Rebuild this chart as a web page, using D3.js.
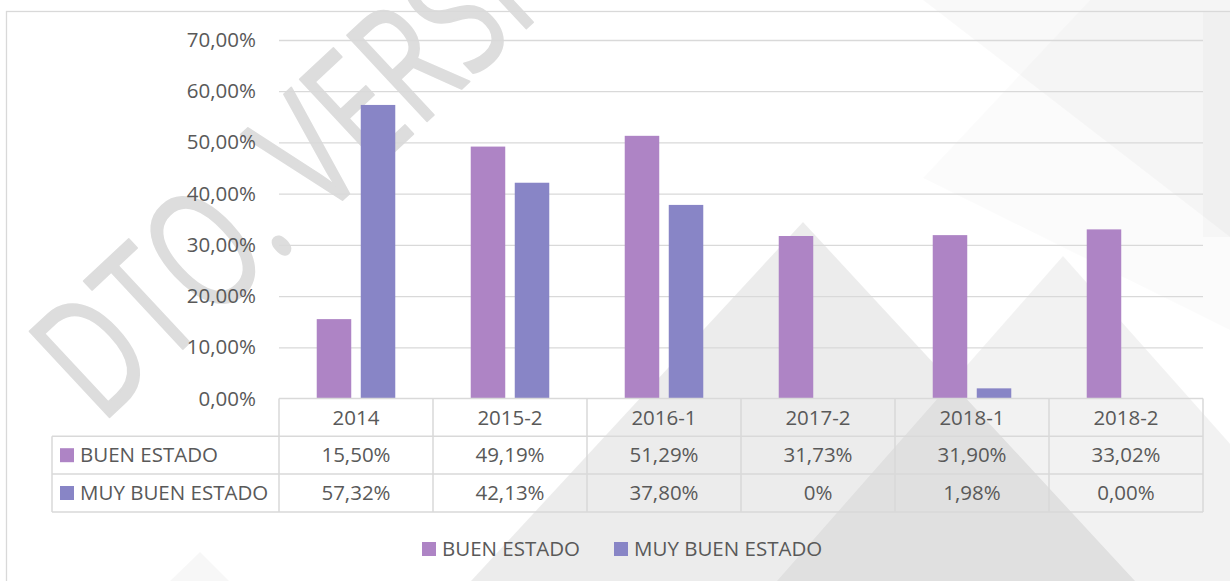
<!DOCTYPE html>
<html>
<head>
<meta charset="utf-8">
<script src="https://cdn.jsdelivr.net/npm/d3@7/dist/d3.min.js"></script>
<style>
  html, body { margin: 0; padding: 0; background: #ffffff; }
  svg { display: block; }
  text { font-family: "Open Sans", "Noto Sans", sans-serif; }
</style>
</head>
<body>
<svg id="chart" width="1230" height="581"></svg>
<script>
// ---- data ----
const categories = ["2014", "2015-2", "2016-1", "2017-2", "2018-1", "2018-2"];
const seriesNames = ["BUEN ESTADO", "MUY BUEN ESTADO"];
const buenEstado = [15.50, 49.19, 51.29, 31.73, 31.90, 33.02];
const muyBuenEstado = [57.32, 42.13, 37.80, 0, 1.98, 0.00];
// decimals shown in the data table for each cell
const buenDecimals = [2, 2, 2, 2, 2, 2];
const muyDecimals = [2, 2, 2, 0, 2, 2];
const yTicks = [0, 10, 20, 30, 40, 50, 60, 70];
const seriesColors = ["#ae84c5", "#8885c6"];

const series = [
  { name: seriesNames[0], values: buenEstado, decimals: buenDecimals, color: seriesColors[0] },
  { name: seriesNames[1], values: muyBuenEstado, decimals: muyDecimals, color: seriesColors[1] }
];

const fmtPct = (v, d) => d3.format("." + d + "f")(v).replace(".", ",") + "%";

// ---- layout ----
const W = 1230, H = 581;
const plot = { left: 279, right: 1203, top: 40, bottom: 398.5 };
const tableLeft = 52;
const rowH = 37.8;
const textColor = "#595959";
const lineColor = "#d9d9d9";
const fontSize = 20.5;

const svg = d3.select("#chart");

// ---- background decoration ----
const bg = svg.append("g");
bg.append("rect").attr("width", W).attr("height", H).attr("fill", "#ffffff");
const shades = [
  { pts: [[923, 0], [1230, 0], [1230, 237]], a: 0.025 },
  { pts: [[1090, 0], [923, 178], [1230, 330], [1230, 0]], a: 0.015 },
  { pts: [[1203, 11], [1230, 11], [1230, 237], [1203, 237]], a: 0.02 },
  { pts: [[803, 222], [471, 581], [1135, 581]], a: 0.075 },
  { pts: [[1063, 256], [777, 581], [1352, 581]], a: 0.05 },
  { pts: [[200, 552], [170, 581], [229, 581]], a: 0.03 }
];
bg.selectAll("polygon").data(shades).join("polygon")
  .attr("points", d => d.pts.map(p => p.join(",")).join(" "))
  .attr("fill", "#000")
  .attr("fill-opacity", d => d.a);

// watermark
svg.append("text")
  .attr("transform", "translate(101,425) rotate(-43) scale(0.71,1)")
  .attr("font-size", 164)
  .attr("fill", "#dddddd")
  .attr("stroke", "#dddddd")
  .attr("stroke-width", 2)
  .attr("stroke-linejoin", "round")
  .text("DTO. VERSIÓN");

// chart frame
svg.append("rect")
  .attr("x", 6.5).attr("y", 11.5)
  .attr("width", W).attr("height", H)
  .attr("fill", "none")
  .attr("stroke", lineColor)
  .attr("stroke-width", 1.3);

// ---- scales ----
const x0 = d3.scaleBand().domain(categories).range([plot.left, plot.right]).padding(0);
const step = x0.step();
const x1 = d3.scaleBand().domain(seriesNames)
  .range([step * 0.245, step * 0.755]).paddingInner(0.216);
const y = d3.scaleLinear().domain([0, 70]).range([plot.bottom, plot.top]);

// gridlines
const grid = svg.append("g")
  .attr("transform", `translate(${plot.left},0)`)
  .call(d3.axisLeft(y).tickValues(yTicks.slice(1)).tickSize(-(plot.right - plot.left)).tickFormat(""));
grid.select(".domain").remove();
grid.selectAll("line").attr("stroke", lineColor).attr("stroke-width", 1.3);

// y axis labels
const yAxis = svg.append("g")
  .attr("transform", `translate(256,0)`)
  .call(d3.axisLeft(y).tickValues(yTicks).tickSize(0).tickPadding(0)
    .tickFormat(v => fmtPct(v, 2)));
yAxis.select(".domain").remove();
yAxis.selectAll("text")
  .attr("font-family", "\"Open Sans\", sans-serif")
  .attr("font-size", fontSize)
  .attr("fill", textColor);

// ---- bars ----
const groups = svg.append("g").selectAll("g").data(categories).join("g")
  .attr("transform", d => `translate(${x0(d)},0)`);
groups.selectAll("rect")
  .data((c, i) => series.map(s => ({ key: s.name, value: s.values[i], color: s.color })))
  .join("rect")
  .attr("x", d => x1(d.key))
  .attr("width", x1.bandwidth())
  .attr("y", d => y(d.value))
  .attr("height", d => y(0) - y(d.value))
  .attr("fill", d => d.color);

// ---- data table ----
const table = svg.append("g");
const rowTop = [plot.bottom, plot.bottom + rowH, plot.bottom + 2 * rowH, plot.bottom + 3 * rowH];
const tableLine = (x1_, y1_, x2_, y2_) => table.append("line")
  .attr("x1", x1_).attr("y1", y1_).attr("x2", x2_).attr("y2", y2_)
  .attr("stroke", lineColor).attr("stroke-width", 1.5);

// horizontal rules
tableLine(plot.left, rowTop[0], plot.right, rowTop[0]);
[1, 2, 3].forEach(r => tableLine(tableLeft, rowTop[r], plot.right, rowTop[r]));
// vertical rules
tableLine(tableLeft, rowTop[1], tableLeft, rowTop[3]);
categories.forEach(c => tableLine(x0(c), rowTop[0], x0(c), rowTop[3]));
tableLine(plot.right, rowTop[0], plot.right, rowTop[3]);

// category header
table.selectAll("text.cat").data(categories).join("text")
  .attr("class", "cat")
  .attr("x", d => x0(d) + step / 2)
  .attr("y", (rowTop[0] + rowTop[1]) / 2)
  .attr("dy", "0.35em")
  .attr("text-anchor", "middle")
  .attr("font-size", fontSize)
  .attr("fill", textColor)
  .text(d => d);

// series rows
series.forEach((s, si) => {
  const cy = (rowTop[si + 1] + rowTop[si + 2]) / 2;
  table.append("rect")
    .attr("x", 60).attr("y", cy - 7).attr("width", 14).attr("height", 14)
    .attr("fill", s.color);
  table.append("text")
    .attr("x", 80).attr("y", cy).attr("dy", "0.35em")
    .attr("font-size", fontSize).attr("fill", textColor)
    .text(s.name);
  table.selectAll("text.v" + si).data(categories).join("text")
    .attr("class", "v" + si)
    .attr("x", d => x0(d) + step / 2)
    .attr("y", cy)
    .attr("dy", "0.35em")
    .attr("text-anchor", "middle")
    .attr("font-size", fontSize)
    .attr("fill", textColor)
    .text((d, i) => fmtPct(s.values[i], s.decimals[i]));
});

// ---- legend ----
const legend = svg.append("g").attr("transform", "translate(0,549)");
const legendX = [422, 614];
series.forEach((s, i) => {
  legend.append("rect")
    .attr("x", legendX[i]).attr("y", -7).attr("width", 14).attr("height", 14)
    .attr("fill", s.color);
  legend.append("text")
    .attr("x", legendX[i] + 20).attr("y", 0).attr("dy", "0.35em")
    .attr("font-size", fontSize).attr("fill", textColor)
    .text(s.name);
});
</script>
</body>
</html>
